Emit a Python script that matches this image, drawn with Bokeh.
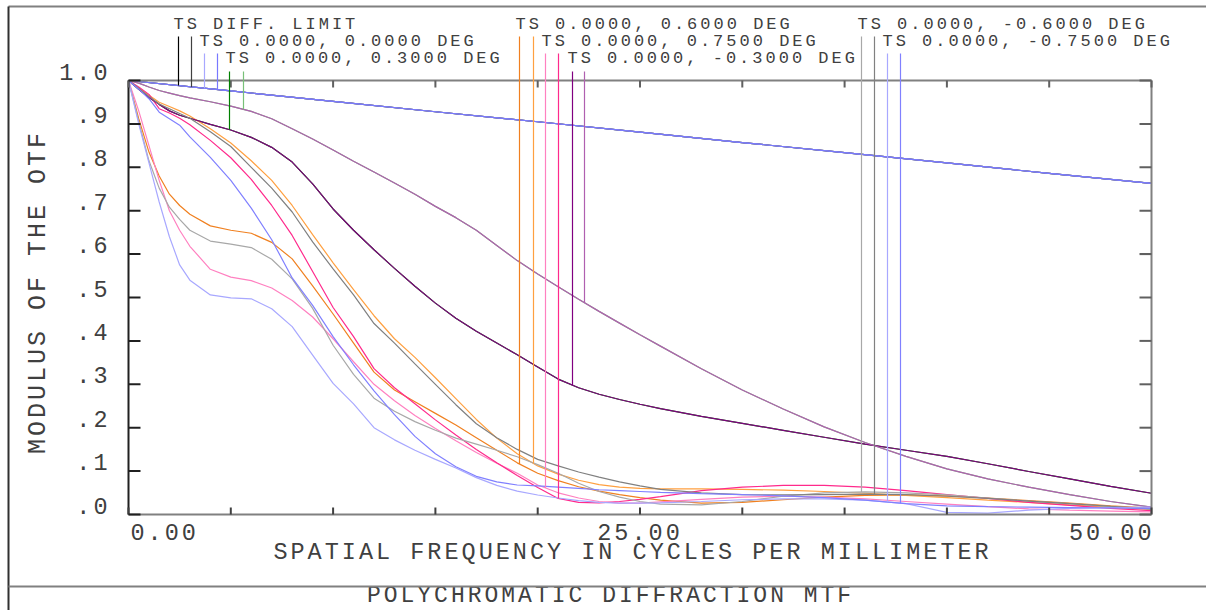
import numpy as np
from bokeh.plotting import figure
from bokeh.models import Range1d
from bokeh.core.properties import value
from bokeh.embed import file_html
from bokeh.resources import INLINE

# ---------------- data ----------------
F_TOP = [0, 5, 10, 15, 20, 25, 30, 35, 40, 45, 50]
DIFF_T = [1.000, 0.976, 0.952, 0.928, 0.905, 0.881, 0.857, 0.834, 0.810, 0.786, 0.763]
DIFF_S = DIFF_T
F00_T = DIFF_T
F00_S = DIFF_T

FREQ = [0, 0.5, 1, 1.5, 2, 2.5, 3, 4, 5, 6, 7, 8, 9, 10, 11, 12, 13, 14, 15, 16, 17, 18, 19, 20,
        21, 22, 23, 24, 25, 26, 28, 30, 32, 34, 36, 38, 40, 42, 44, 46, 48, 50]

FM03_S = [1.000, 0.994, 0.985, 0.977, 0.971, 0.965, 0.960, 0.951, 0.941, 0.929, 0.912, 0.889, 0.865, 0.840,
          0.814, 0.789, 0.764, 0.738, 0.710, 0.684, 0.655, 0.620, 0.585, 0.554, 0.525, 0.496, 0.468, 0.441,
          0.414, 0.388, 0.336, 0.287, 0.243, 0.202, 0.166, 0.134, 0.105, 0.082, 0.063, 0.046, 0.030, 0.017]
FM03_T = [1.000, 0.980, 0.961, 0.945, 0.930, 0.920, 0.913, 0.899, 0.886, 0.869, 0.846, 0.812, 0.762, 0.704,
          0.655, 0.610, 0.567, 0.526, 0.487, 0.452, 0.422, 0.395, 0.368, 0.340, 0.312, 0.292, 0.277, 0.265,
          0.254, 0.244, 0.226, 0.210, 0.194, 0.178, 0.162, 0.148, 0.134, 0.117, 0.099, 0.082, 0.065, 0.049]
F03_T = FM03_T
F03_S = FM03_S

F06_T = [1.000, 0.912, 0.835, 0.780, 0.738, 0.712, 0.692, 0.665, 0.655, 0.648, 0.627, 0.589, 0.527, 0.462,
         0.395, 0.328, 0.287, 0.260, 0.233, 0.206, 0.177, 0.148, 0.119, 0.095, 0.078, 0.064, 0.054, 0.046,
         0.039, 0.033, 0.026, 0.028, 0.034, 0.040, 0.044, 0.045, 0.043, 0.038, 0.032, 0.026, 0.020, 0.015]
F06_S = [1.000, 0.983, 0.966, 0.950, 0.940, 0.930, 0.918, 0.889, 0.856, 0.815, 0.770, 0.712, 0.645, 0.580,
         0.518, 0.458, 0.405, 0.362, 0.315, 0.267, 0.219, 0.176, 0.140, 0.112, 0.093, 0.079, 0.069, 0.063,
         0.060, 0.059, 0.059, 0.058, 0.056, 0.053, 0.049, 0.044, 0.039, 0.033, 0.028, 0.022, 0.017, 0.012]

F075_T = [1.000, 0.930, 0.850, 0.770, 0.700, 0.655, 0.618, 0.565, 0.547, 0.539, 0.522, 0.493, 0.455, 0.405,
          0.352, 0.300, 0.262, 0.228, 0.198, 0.170, 0.143, 0.118, 0.095, 0.068, 0.050, 0.038, 0.030, 0.026,
          0.026, 0.029, 0.035, 0.040, 0.042, 0.040, 0.036, 0.030, 0.024, 0.018, 0.013, 0.010, 0.008, 0.006]
F075_S = [1.000, 0.985, 0.968, 0.935, 0.925, 0.913, 0.898, 0.862, 0.822, 0.772, 0.712, 0.643, 0.560, 0.477,
          0.410, 0.336, 0.292, 0.255, 0.218, 0.183, 0.150, 0.119, 0.090, 0.062, 0.037, 0.028, 0.027, 0.030,
          0.035, 0.041, 0.055, 0.063, 0.067, 0.067, 0.063, 0.055, 0.046, 0.037, 0.028, 0.021, 0.014, 0.009]

FM06_T = [1.000, 0.905, 0.815, 0.752, 0.708, 0.680, 0.655, 0.630, 0.623, 0.615, 0.588, 0.543, 0.475, 0.390,
          0.323, 0.268, 0.238, 0.214, 0.194, 0.176, 0.162, 0.148, 0.133, 0.115, 0.095, 0.072, 0.053, 0.040,
          0.030, 0.024, 0.022, 0.030, 0.042, 0.050, 0.052, 0.050, 0.045, 0.038, 0.031, 0.025, 0.018, 0.012]
FM06_S = [1.000, 0.982, 0.963, 0.946, 0.935, 0.924, 0.913, 0.882, 0.848, 0.800, 0.752, 0.697, 0.628, 0.566,
          0.506, 0.440, 0.395, 0.347, 0.300, 0.253, 0.209, 0.177, 0.150, 0.127, 0.112, 0.098, 0.086, 0.075,
          0.066, 0.058, 0.050, 0.046, 0.045, 0.046, 0.047, 0.046, 0.042, 0.037, 0.031, 0.025, 0.019, 0.013]

FM075_T = [1.000, 0.900, 0.810, 0.720, 0.640, 0.575, 0.540, 0.506, 0.499, 0.497, 0.474, 0.433, 0.367, 0.302,
           0.255, 0.200, 0.172, 0.148, 0.127, 0.107, 0.085, 0.067, 0.054, 0.045, 0.038, 0.032, 0.028, 0.026,
           0.026, 0.027, 0.030, 0.034, 0.036, 0.036, 0.033, 0.025, 0.005, 0.003, 0.010, 0.014, 0.016, 0.017]
FM075_S = [1.000, 0.980, 0.958, 0.927, 0.912, 0.897, 0.870, 0.823, 0.770, 0.706, 0.633, 0.545, 0.482, 0.410,
           0.345, 0.285, 0.230, 0.180, 0.140, 0.110, 0.088, 0.075, 0.068, 0.066, 0.063, 0.060, 0.057, 0.055,
           0.053, 0.051, 0.048, 0.046, 0.043, 0.039, 0.033, 0.025, 0.020, 0.018, 0.017, 0.016, 0.015, 0.014]

X_TICKS = [0, 5, 10, 15, 20, 25, 30, 35, 40, 45, 50]
X_LABEL_VALUES = [0, 25, 50]
X_LABELS = ["0.00", "25.00", "50.00"]
Y_TICKS = [0.0, 0.1, 0.2, 0.3, 0.4, 0.5, 0.6, 0.7, 0.8, 0.9, 1.0]
Y_LABELS = [".0", ".1", ".2", ".3", ".4", ".5", ".6", ".7", ".8", ".9", "1.0"]

LEGEND_TEXT = ["TS DIFF. LIMIT", "TS 0.0000, 0.0000 DEG", "TS 0.0000, 0.3000 DEG",
               "TS 0.0000, 0.6000 DEG", "TS 0.0000, 0.7500 DEG", "TS 0.0000, -0.3000 DEG",
               "TS 0.0000, -0.6000 DEG", "TS 0.0000, -0.7500 DEG"]
X_TITLE = "SPATIAL FREQUENCY IN CYCLES PER MILLIMETER"
Y_TITLE = "MODULUS OF THE OTF"
TITLE = "POLYCHROMATIC DIFFRACTION MTF"

# ---------------- layout / style ----------------
W, H = 1206, 610
FL, FR, FT, FB = 128, 1151, 80, 514          # plot box in pixels
XMAX, YMAX = 50.0, 1.0
PX_X = (FR - FL) / XMAX                      # pixels per data unit
PX_Y = (FB - FT) / YMAX


def fx(px):
    return (px - FL) / PX_X


def fy(py):
    return (FB - py) / PX_Y


FONT = "Liberation Mono"
TXT = "#404040"
LS = 3.0            # letter spacing, px
SMALL = 17.0        # legend font size, px
BIG = 23.5          # axis font size, px
TITLE_SIZE = 23.0
YT_SIZE = 25.0      # vertical axis title


def text_width(txt, size):
    return len(txt) * (0.6 * size + LS) - LS


def left_of(anchor, txt, size, align):
    w = text_width(txt, size)
    return anchor - {"left": 0.0, "center": w / 2, "right": w}[align]


def put_text(fig, xs_px, ys_px, texts, size, angle=0.0):
    fig.text(x=[fx(v) for v in xs_px], y=[fy(v) for v in ys_px], text=texts, angle=angle,
             text_font=value(FONT), text_font_size=value(f"{size}px"), text_color=TXT,
             text_align="left", text_baseline="middle")


SERIES = [  # (freq, T values, S values, T colour, S colour) per legend entry
    (F_TOP, DIFF_T, DIFF_S, "#000000", "#404040"),
    (F_TOP, F00_T, F00_S, "#a8a8ff", "#7878ff"),
    (FREQ, F03_T, F03_S, "#008000", "#78c078"),
    (FREQ, F06_T, F06_S, "#f08020", "#ffa040"),
    (FREQ, F075_T, F075_S, "#ff80c0", "#ff2a8c"),
    (FREQ, FM03_T, FM03_S, "#800080", "#b060b0"),
    (FREQ, FM06_T, FM06_S, "#a8a8a8", "#808080"),
    (FREQ, FM075_T, FM075_S, "#a8a8ff", "#8080ff"),
]
LEG_X = [173, 199, 225, 515, 541, 567, 857, 882]
LEG_ROW = [0, 1, 2, 0, 1, 2, 0, 1]
ROW_Y = [23.5, 41, 58]
ROW_LINE_TOP = [36, 53, 71]
LEG_MARK_X = [(178, 191), (204, 217), (229, 243), (519, 533), (545, 558), (572, 584), (861, 874), (887, 900)]

p = figure(width=W, height=H, x_range=Range1d(fx(0), fx(W)), y_range=Range1d(fy(H), fy(0)),
           output_backend="svg", toolbar_location=None, x_axis_type=None, y_axis_type=None,
           min_border=0)
p.styles = {"letter-spacing": f"{LS}px"}
p.background_fill_color = "white"
p.border_fill_color = "white"
p.outline_line_color = None
p.grid.visible = False

# curves
for freq, t_vals, s_vals, ct, cs in SERIES:
    p.line(freq, t_vals, line_color=ct, line_width=1.2)
    p.line(freq, s_vals, line_color=cs, line_width=1.2)

# plot box
p.segment(x0=[0, 0, XMAX], y0=[0, YMAX, 0], x1=[XMAX, XMAX, XMAX], y1=[0, YMAX, YMAX],
          line_color="#808080", line_width=2)
p.segment(x0=[0], y0=[0], x1=[0], y1=[YMAX], line_color="#202020", line_width=2)

# ticks (inside)
xt = np.array(X_TICKS, dtype=float)
yt = np.array(Y_TICKS, dtype=float)
TICK_X_LEN = 7 / PX_Y
TICK_Y_LEN = 12 / PX_X
p.segment(x0=xt, y0=np.zeros_like(xt), x1=xt, y1=np.zeros_like(xt) + TICK_X_LEN,
          line_color="#404040", line_width=2)
p.segment(x0=xt, y0=np.full_like(xt, YMAX), x1=xt, y1=np.full_like(xt, YMAX) - TICK_X_LEN,
          line_color="#606060", line_width=2)
p.segment(x0=np.zeros_like(yt), y0=yt, x1=np.zeros_like(yt) + TICK_Y_LEN, y1=yt,
          line_color="#202020", line_width=2)
p.segment(x0=np.full_like(yt, XMAX), y0=yt, x1=np.full_like(yt, XMAX) - TICK_Y_LEN, y1=yt,
          line_color="#606060", line_width=2)

# legend texts and leader lines
lx0, ly0, ly1, lcol = [], [], [], []
for i, txt in enumerate(LEGEND_TEXT):
    row = LEG_ROW[i]
    freq, t_vals, s_vals, ct, cs = SERIES[i]
    for mx, vals, col in zip(LEG_MARK_X[i], (t_vals, s_vals), (ct, cs)):
        xf = fx(mx)
        lx0.append(xf)
        ly0.append(fy(ROW_LINE_TOP[row]))
        ly1.append(float(np.interp(xf, freq, vals)))
        lcol.append(col)
p.segment(x0=lx0, y0=ly0, x1=lx0, y1=ly1, line_color=lcol, line_width=1.2)
put_text(p, LEG_X, [ROW_Y[r] for r in LEG_ROW], LEGEND_TEXT, SMALL)

# tick labels (y labels sit 9 px above their tick)
YLAB_RIGHT = 107
y_lab_px = [FB - v * PX_Y - 9 for v in Y_TICKS]
put_text(p, [left_of(YLAB_RIGHT, t, BIG, "right") for t in Y_LABELS], y_lab_px, Y_LABELS, BIG)
x_lab_px = [left_of(FL + v * PX_X + d, t, BIG, al)
            for v, t, al, d in zip(X_LABEL_VALUES, X_LABELS, ["left", "center", "right"], [2, -1.5, 0])]
put_text(p, x_lab_px, [531] * 3, X_LABELS, BIG)

# axis titles and chart title
put_text(p, [left_of(630.5, X_TITLE, BIG, "center")], [552], [X_TITLE], BIG)
put_text(p, [38], [293 + text_width(Y_TITLE, YT_SIZE) / 2], [Y_TITLE], YT_SIZE, angle=np.pi / 2)
put_text(p, [left_of(608.5, TITLE, TITLE_SIZE, "center")], [595.5], [TITLE], TITLE_SIZE)

# outer page frame
p.segment(x0=[fx(8), fx(8), fx(8)], y0=[fy(6), fy(6), fy(586)],
          x1=[fx(W), fx(8), fx(W)], y1=[fy(6), fy(H), fy(586)],
          line_color=["#808080", "#303030", "#808080"], line_width=2)

open("out.html", "w").write(file_html(p, INLINE))
